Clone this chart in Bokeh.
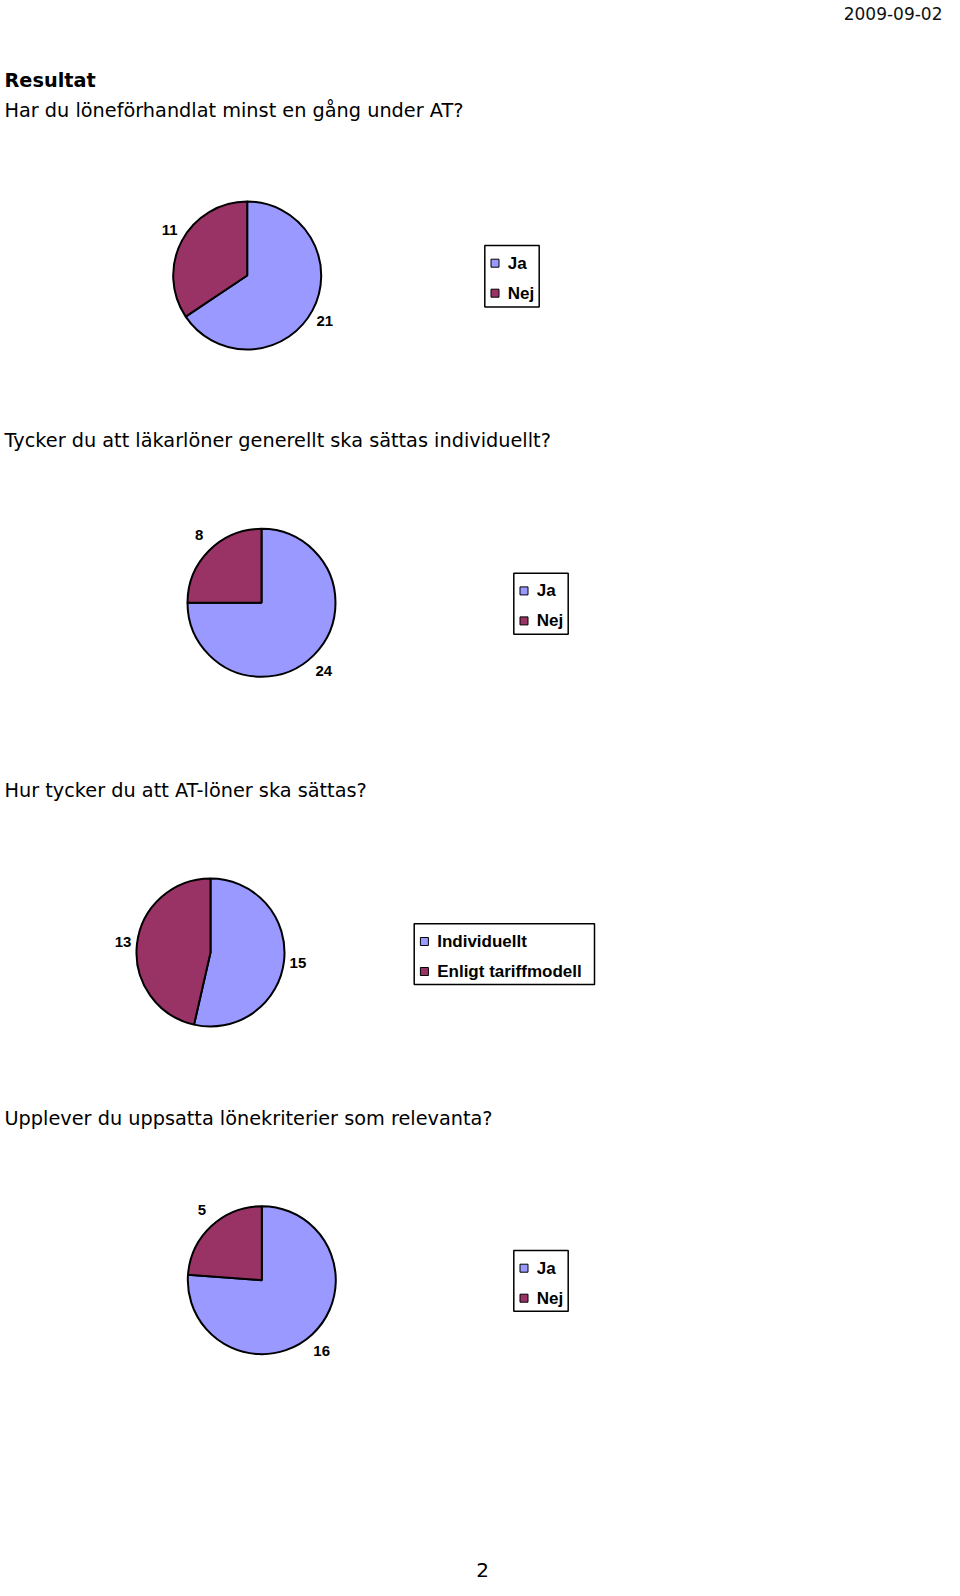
import math
from bokeh.plotting import figure
from bokeh.models import Range1d, ColumnDataSource
from bokeh.core.properties import value
from bokeh.embed import file_html
from bokeh.resources import INLINE

# ---------------- data ----------------
date_label = "2009-09-02"
page_title = "Resultat"
page_number = "2"

q1_title = "Har du löneförhandlat minst en gång under AT?"
q1_categories = ["Ja", "Nej"]
q1_values = [21, 11]

q2_title = "Tycker du att läkarlöner generellt ska sättas individuellt?"
q2_categories = ["Ja", "Nej"]
q2_values = [24, 8]

q3_title = "Hur tycker du att AT-löner ska sättas?"
q3_categories = ["Individuellt", "Enligt tariffmodell"]
q3_values = [15, 13]

q4_title = "Upplever du uppsatta lönekriterier som relevanta?"
q4_categories = ["Ja", "Nej"]
q4_values = [16, 5]

slice_colors = ["#9999FF", "#993366"]

# ---------------- layout (pixel coordinates from the top-left) ----------------
W, H = 944, 1580
X0, Y0 = 0, 0
TEXT_LEFT = 4
PIE_R = 74
LABEL_RX, LABEL_RY = 88, 96

questions = [
    dict(title=q1_title, title_y=110, cats=q1_categories, vals=q1_values,
         cx=246.7, cy=275, lg=(484.3, 245, 54.4, 61.5)),
    dict(title=q2_title, title_y=440, cats=q2_categories, vals=q2_values,
         cx=261, cy=602.3, lg=(513.3, 572.7, 54.4, 61)),
    dict(title=q3_title, title_y=790, cats=q3_categories, vals=q3_values,
         cx=210, cy=952, lg=(413.7, 923.3, 180.3, 60.7)),
    dict(title=q4_title, title_y=1118, cats=q4_categories, vals=q4_values,
         cx=261.3, cy=1279.7, lg=(513.3, 1250, 54.4, 60.7)),
]

p = figure(width=W, height=H,
           x_range=Range1d(X0, X0 + W), y_range=Range1d(-(Y0 + H), -Y0),
           x_axis_type=None, y_axis_type=None,
           output_backend="svg", toolbar_location=None, min_border=0)
p.grid.visible = False
p.outline_line_color = None
p.background_fill_color = "white"
p.border_fill_color = "white"

SANS = value("DejaVu Sans")
ARIAL = value("Liberation Sans")

# header texts
p.text(x=[X0 + W - 2], y=[-13], text=[date_label], text_font=SANS, text_font_size="17px",
       text_align="right", text_baseline="alphabetic", text_color="#111111")
p.text(x=[TEXT_LEFT], y=[-80], text=[page_title], text_font=SANS, text_font_size="19.3px",
       text_font_style="bold", text_align="left", text_baseline="alphabetic",
       text_color="black")
p.text(x=[482], y=[-1569], text=[page_number], text_font=SANS, text_font_size="20px",
       text_align="center", text_baseline="alphabetic", text_color="black")

for q in questions:
    # question title
    p.text(x=[TEXT_LEFT], y=[-q["title_y"]], text=[q["title"]], text_font=SANS,
           text_font_size="19.3px", text_align="left", text_baseline="alphabetic",
           text_color="black")

    vals = q["vals"]
    total = float(sum(vals))
    starts, ends, lx, ly, labels = [], [], [], [], []
    cum = 0.0
    for v in vals:
        a0 = cum / total
        a1 = (cum + v) / total
        cum += v
        # clockwise from 12 o'clock
        starts.append(math.pi / 2 - 2 * math.pi * a1)
        ends.append(math.pi / 2 - 2 * math.pi * a0)
        mid = math.pi * (a0 + a1)
        lx.append(q["cx"] + LABEL_RX * math.sin(mid))
        ly.append(-(q["cy"] - LABEL_RY * math.cos(mid)))
        labels.append(str(v))

    src = ColumnDataSource(dict(
        x=[q["cx"]] * len(vals), y=[-q["cy"]] * len(vals),
        start=starts, end=ends, color=slice_colors[:len(vals)]))
    p.wedge(x="x", y="y", radius=PIE_R, start_angle="start", end_angle="end",
            direction="anticlock", fill_color="color", line_color="black",
            line_width=2, source=src)

    p.text(x=lx, y=ly, text=labels, text_font=ARIAL, text_font_size="15px",
           text_font_style="bold", text_align="center", text_baseline="middle",
           text_color="black")

    # legend
    left, top, w, h = q["lg"]
    p.quad(left=[left], right=[left + w], top=[-top], bottom=[-(top + h)],
           fill_color="white", line_color="black", line_width=1.5)
    rows_y = [top + 17.7 + 30 * i for i in range(len(q["cats"]))]
    p.rect(x=[left + 10.2] * len(rows_y), y=[-ry for ry in rows_y],
           width=8, height=8, fill_color=slice_colors[:len(rows_y)],
           line_color="black", line_width=1)
    p.text(x=[left + 23] * len(rows_y), y=[-ry for ry in rows_y], text=q["cats"],
           text_font=ARIAL, text_font_size="17px", text_font_style="bold",
           text_align="left", text_baseline="middle", text_color="black")

open("out.html", "w").write(file_html(p, INLINE))
